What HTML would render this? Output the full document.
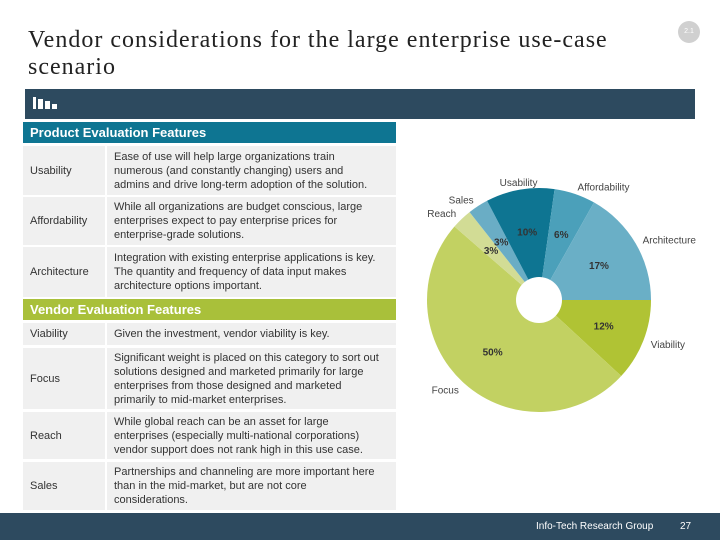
<!DOCTYPE html>
<html><head><meta charset="utf-8"><style>
body{margin:0;width:720px;height:540px;position:relative;background:#fff;font-family:"Liberation Sans",sans-serif;overflow:hidden}
.abs{position:absolute}
.title{left:28px;top:27px;font-family:"Liberation Serif",serif;font-size:24px;line-height:27px;letter-spacing:1px;color:#222}
.hdr{left:23px;width:373px;height:21px;color:#fff;font-weight:bold;font-size:13px;line-height:21px;padding-left:7px;box-sizing:border-box}
.lc,.rc{background:#f0f0f0;font-size:11px;color:#333;display:flex;align-items:center;box-sizing:border-box;line-height:14px}
.lc{left:23px;width:82px;padding-left:7px}
.rc{left:107px;width:289px;padding-left:7px;padding-right:16px}
</style></head><body>
<div class="abs title">Vendor considerations for the large enterprise use-case<br>scenario</div>
<div class="abs" style="left:678px;top:21px;width:22px;height:22px;border-radius:50%;background:#d0d0d0;color:#fff;font-size:7px;line-height:22px;text-align:center">2.1</div>
<div class="abs" style="left:25px;top:89px;width:670px;height:30px;background:#2d4a5f">
<div style="position:absolute;left:8px;top:8px;width:3px;height:12px;background:#fff"></div>
<div style="position:absolute;left:13px;top:10px;width:5px;height:10px;background:#fff"></div>
<div style="position:absolute;left:20px;top:12px;width:5px;height:8px;background:#fff"></div>
<div style="position:absolute;left:27px;top:15px;width:5px;height:5px;background:#fff"></div>
</div>
<div class="abs hdr" style="top:122px;background:#0e7592">Product Evaluation Features</div>
<div class="abs lc" style="top:146px;height:49px">Usability</div>
<div class="abs rc" style="top:146px;height:49px">Ease of use will help large organizations train numerous (and constantly changing) users and admins and drive long-term adoption of the solution.</div>
<div class="abs lc" style="top:197px;height:48px">Affordability</div>
<div class="abs rc" style="top:197px;height:48px">While all organizations are budget conscious, large enterprises expect to pay enterprise prices for enterprise-grade solutions.</div>
<div class="abs lc" style="top:247px;height:50px">Architecture</div>
<div class="abs rc" style="top:247px;height:50px">Integration with existing enterprise applications is key. The quantity and frequency of data input makes architecture options important.</div>
<div class="abs hdr" style="top:299px;background:#a9c03a">Vendor Evaluation Features</div>
<div class="abs lc" style="top:323px;height:22px">Viability</div>
<div class="abs rc" style="top:323px;height:22px">Given the investment, vendor viability is key.</div>
<div class="abs lc" style="top:348px;height:61px">Focus</div>
<div class="abs rc" style="top:348px;height:61px">Significant weight is placed on this category to sort out solutions designed and marketed primarily for large enterprises from those designed and marketed primarily to mid-market enterprises.</div>
<div class="abs lc" style="top:412px;height:47px">Reach</div>
<div class="abs rc" style="top:412px;height:47px">While global reach can be an asset for large enterprises (especially multi-national corporations) vendor support does not rank high in this use case.</div>
<div class="abs lc" style="top:462px;height:48px">Sales</div>
<div class="abs rc" style="top:462px;height:48px">Partnerships and channeling are more important here than in the mid-market, but are not core considerations.</div>
<svg id="pie" class="abs" style="left:0;top:0" width="720" height="540"></svg>
<div class="abs" style="left:0;top:513px;width:720px;height:27px;background:#2d4a5f"></div>
<div class="abs" style="left:536px;top:521px;color:#fff;font-size:10px">Info-Tech Research Group</div>
<div class="abs" style="left:680px;top:521px;color:#fff;font-size:10px">27</div>
<script>
const categories=["Viability","Focus","Reach","Sales","Usability","Affordability","Architecture"];
const values=[12,50,3,3,10,6,17];
const colors=["#b0c334","#c2d162","#d2dc95","#6aadc5","#0e7592","#4ba0ba","#6aafc6"];
const svg=document.getElementById('pie');
const NS="http://www.w3.org/2000/svg";
const cx=539,cy=300,R=112,r0=23;
const total=values.reduce((a,b)=>a+b,0);
let a=0;
function pt(rad,ang){return [cx+rad*Math.cos(ang),cy+rad*Math.sin(ang)];}
values.forEach((v,i)=>{
  const a1=a+v/total*2*Math.PI;
  const p0=pt(R,a),p1=pt(R,a1);
  const large=(a1-a)>Math.PI?1:0;
  const p=document.createElementNS(NS,'path');
  p.setAttribute('d',`M${cx},${cy} L${p0[0]},${p0[1]} A${R},${R} 0 ${large} 1 ${p1[0]},${p1[1]} Z`);
  p.setAttribute('fill',colors[i]);
  
  
  svg.appendChild(p);
  const m=(a+a1)/2;
  const lp=pt(R*0.62,m);
  const t=document.createElementNS(NS,'text');
  t.setAttribute('x',lp[0]);t.setAttribute('y',lp[1]+4);
  t.setAttribute('text-anchor','middle');t.setAttribute('font-size','10');t.setAttribute('font-weight','bold');t.setAttribute('fill','#333');
  t.textContent=v+'%';
  
  
  svg.appendChild(t);
  const op=pt(R+8,m);
  const c=Math.cos(m);
  const o=document.createElementNS(NS,'text');
  o.setAttribute('x',op[0]);o.setAttribute('y',op[1]+4);
  o.setAttribute('text-anchor',c>0.3?'start':(c<-0.3?'end':'middle'));
  o.setAttribute('font-size','10');o.setAttribute('fill','#444');
  o.textContent=categories[i];
  
  
  svg.appendChild(o);
  a=a1;
});
const hole=document.createElementNS(NS,'circle');
hole.setAttribute('cx',cx);hole.setAttribute('cy',cy);hole.setAttribute('r',r0);hole.setAttribute('fill','#fff');


svg.appendChild(hole);
</script>
</body></html>
